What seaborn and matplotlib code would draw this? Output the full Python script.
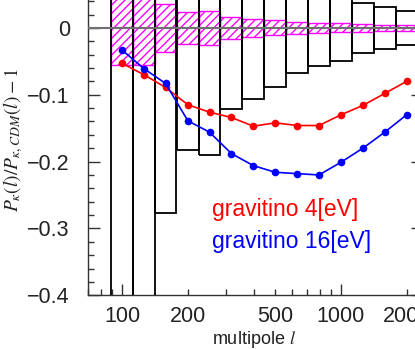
import numpy as np
import pandas as pd
import seaborn as sns
import matplotlib
matplotlib.use("Agg")
import matplotlib.pyplot as plt
from matplotlib.ticker import FixedLocator, LogLocator, FuncFormatter, MultipleLocator

# multipole bin centres (0.1 dex bins)
ell = [100, 126, 158, 200, 251, 316, 398, 501, 631, 794, 1000, 1259, 1585, 1995]

# ratio P_k / P_k,CDM - 1
grav4 = [-0.053, -0.070, -0.089, -0.115, -0.126, -0.134, -0.147, -0.142,
         -0.146, -0.146, -0.130, -0.116, -0.098, -0.080]
grav16 = [-0.033, -0.061, -0.083, -0.139, -0.156, -0.188, -0.206, -0.216,
          -0.218, -0.220, -0.201, -0.180, -0.156, -0.130]

# half widths of the error boxes
err_black = [0.60, 0.45, 0.277, 0.183, 0.190, 0.121, 0.107, 0.089,
             0.068, 0.057, 0.049, 0.038, 0.032, 0.025]
err_magenta = [0.056, 0.056, 0.036, 0.024, 0.025, 0.0165, 0.0135, 0.0113,
               0.0087, 0.0078, 0.0067, 0.0055, 0.0045, 0.004]

sns.set_theme(style="ticks")
plt.rcParams["font.family"] = ["Liberation Sans", "DejaVu Sans"]
plt.rcParams["mathtext.fontset"] = "stix"
plt.rcParams["hatch.color"] = "magenta"
plt.rcParams["hatch.linewidth"] = 1.0

df = pd.DataFrame({"ell": ell, "g4": grav4, "g16": grav16,
                   "eb": err_black, "em": err_magenta})
logc = np.log10(df["ell"])
left = 10 ** (logc - 0.05)
width = 10 ** (logc + 0.05) - left

fig = plt.figure(figsize=(4.15, 3.49), dpi=100)
ax = fig.add_axes([0.212, 0.154, 0.807, 0.90])
ax.set_xscale("log")

# hatched boxes
ax.bar(left, 2 * df["em"], width=width, bottom=-df["em"], align="edge",
       fill=False, edgecolor="magenta", hatch="////", linewidth=1.0, zorder=2)
# open black boxes
ax.bar(left, 2 * df["eb"], width=width, bottom=-df["eb"], align="edge",
       fill=False, edgecolor="black", linewidth=1.3, zorder=3)
ax.axhline(0, color="#707070", linewidth=1.5, zorder=4)

sns.lineplot(data=df, x="ell", y="g4", color="red", marker="o", markersize=5.5,
             markeredgewidth=0, linewidth=1.2, ax=ax, zorder=5)
sns.lineplot(data=df, x="ell", y="g16", color="blue", marker="o", markersize=5.5,
             markeredgewidth=0, linewidth=1.2, ax=ax, zorder=5)

ax.set_xlim(69.9, 2368)
ax.set_ylim(-0.4, 0.07)

ax.xaxis.set_major_locator(FixedLocator([100, 1000]))
ax.xaxis.set_minor_locator(LogLocator(base=10, subs=np.arange(2, 10)))
ax.xaxis.set_major_formatter(FuncFormatter(lambda v, p: f"{v:.0f}"))
ax.xaxis.set_minor_formatter(FuncFormatter(
    lambda v, p: f"{v:.0f}" if round(v) in (200, 500, 2000) else ""))
ax.yaxis.set_major_locator(MultipleLocator(0.1))
ax.yaxis.set_minor_locator(MultipleLocator(0.02))
ax.yaxis.set_major_formatter(FuncFormatter(
    lambda v, p: "0" if abs(v) < 1e-9 else f"{v:.1f}".replace("-", "\u2212")))

ax.tick_params(which="both", direction="in", top=True, right=True,
               colors="#333333", width=1.0, labelsize=15.5)
ax.tick_params(axis="y", which="major", length=8.6, pad=13)
ax.tick_params(axis="y", which="minor", length=4.3)
ax.tick_params(axis="x", which="major", length=8, pad=8)
ax.tick_params(axis="x", which="minor", length=4.3, pad=8)
for lab in ax.get_xticklabels(which="both") + ax.get_yticklabels():
    lab.set_color("#222222")
for s in ax.spines.values():
    s.set_color("#333333")
    s.set_linewidth(1.0)

ax.set_xlabel("")
ax.set_ylabel("")
fig.text(13 / 415, 1 - 140 / 349, r"$P_{\kappa}(l)/P_{\kappa,CDM}(l)-1$",
         rotation=90, ha="center", va="center", fontsize=14, color="#222222")
fig.text(254 / 415, 1 - 340 / 349, r"multipole $l$", ha="center", va="center",
         fontsize=13, color="#222222")

ax.text(258, -0.271, "gravitino 4[eV]", color="red", fontsize=16.5,
        ha="left", va="center", zorder=6)
ax.text(258, -0.320, "gravitino 16[eV]", color="blue", fontsize=16.5,
        ha="left", va="center", zorder=6)

fig.savefig("out.png", dpi=100)
